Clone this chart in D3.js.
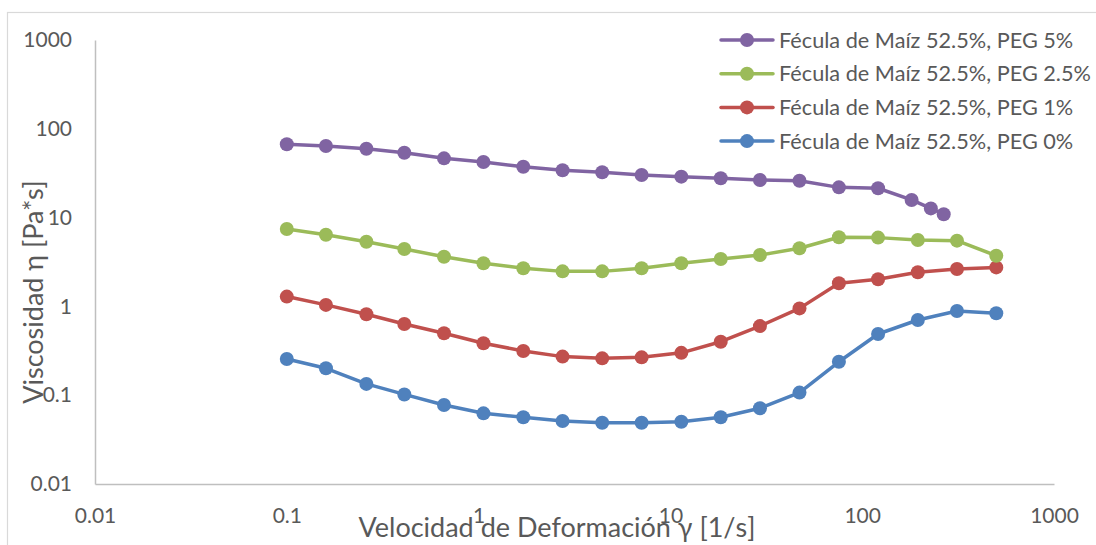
<!DOCTYPE html>
<html>
<head>
<meta charset="utf-8">
<script src="https://cdn.jsdelivr.net/npm/d3@7"></script>
<style>
  html, body { margin: 0; padding: 0; background: #fff; }
  svg { display: block; font-family: "Lato", "Liberation Sans", sans-serif; }
</style>
</head>
<body>
<svg id="chart" width="1096" height="545"></svg>
<script>
// Shear rates of the flow sweep [1/s]
const shearRate = [0.1, 0.16, 0.26, 0.41, 0.66, 1.06, 1.71, 2.74, 4.41, 7.08,
                   11.4, 18.3, 29.3, 47.1, 75.6, 121, 195, 312, 500];
// The 5% PEG sample was measured up to ~270 1/s
const shearRatePeg5 = [0.1, 0.16, 0.26, 0.41, 0.66, 1.06, 1.71, 2.74, 4.41, 7.08,
                       11.4, 18.3, 29.3, 47.1, 75.6, 121, 181, 228, 266];

// Viscosity [Pa*s]
const peg5  = [67, 64, 59.7, 53.8, 46.5, 42.3, 37.4, 34.1, 32.4, 30.2,
               28.9, 27.7, 26.5, 26.0, 21.9, 21.4, 15.8, 12.7, 10.9];
const peg25 = [7.44, 6.42, 5.35, 4.43, 3.63, 3.06, 2.69, 2.48, 2.48, 2.69,
               3.06, 3.42, 3.79, 4.51, 6.0, 5.95, 5.6, 5.5, 3.72];
const peg1  = [1.29, 1.04, 0.815, 0.634, 0.498, 0.384, 0.315, 0.272, 0.260, 0.267,
               0.30, 0.40, 0.60, 0.95, 1.82, 2.02, 2.42, 2.64, 2.75];
const peg0  = [0.256, 0.201, 0.134, 0.102, 0.0776, 0.0625, 0.0564, 0.0512, 0.049, 0.049,
               0.0503, 0.0564, 0.0712, 0.107, 0.238, 0.489, 0.703, 0.887, 0.836];

const seriesNames = ["Fécula de Maíz 52.5%, PEG 5%", "Fécula de Maíz 52.5%, PEG 2.5%",
                     "Fécula de Maíz 52.5%, PEG 1%", "Fécula de Maíz 52.5%, PEG 0%"];
const seriesColors = ["#8064A2", "#9BBB59", "#C0504D", "#4F81BD"];

const xTicks = [0.01, 0.1, 1, 10, 100, 1000];
const yTicks = [0.01, 0.1, 1, 10, 100, 1000];
const xTitle = "Velocidad de Deformación γ [1/s]";
const yTitle = "Viscosidad η [Pa*s]";

const series = [
  { name: seriesNames[0], color: seriesColors[0], x: shearRatePeg5, y: peg5 },
  { name: seriesNames[1], color: seriesColors[1], x: shearRate, y: peg25 },
  { name: seriesNames[2], color: seriesColors[2], x: shearRate, y: peg1 },
  { name: seriesNames[3], color: seriesColors[3], x: shearRate, y: peg0 }
];

const svg = d3.select("#chart");
const plot = { left: 95, right: 1054, top: 40, bottom: 484 };

// Outer chart frame
svg.append("rect")
  .attr("x", 7.5).attr("y", 12.5)
  .attr("width", 1100).attr("height", 560)
  .attr("fill", "none").attr("stroke", "#D9D9D9").attr("stroke-width", 1.2);

const x = d3.scaleLog().domain([0.01, 1000]).range([plot.left, plot.right]);
const y = d3.scaleLog().domain([0.01, 1000]).range([plot.bottom, plot.top]);
const fmt = d => String(d);

// Axes
const xAxis = svg.append("g")
  .attr("transform", `translate(0,${plot.bottom})`)
  .call(d3.axisBottom(x).tickValues(xTicks).tickFormat(fmt).tickSize(0).tickPadding(24));
const yAxis = svg.append("g")
  .attr("transform", `translate(${plot.left},0)`)
  .call(d3.axisLeft(y).tickValues(yTicks).tickFormat(fmt).tickSize(0).tickPadding(23));

[xAxis, yAxis].forEach(g => {
  g.select(".domain").attr("stroke", "#BFBFBF").attr("stroke-width", 1.5);
  g.selectAll("text").attr("fill", "#595959").style("font-size", "21px")
    .style("font-family", "Lato, sans-serif");
});

// Axis titles
svg.append("text")
  .attr("x", 557).attr("y", 537)
  .attr("text-anchor", "middle")
  .attr("fill", "#595959").style("font-size", "27px")
  .text(xTitle);
svg.append("text")
  .attr("transform", "translate(43,292) rotate(-90)")
  .attr("text-anchor", "middle")
  .attr("fill", "#595959").style("font-size", "27px")
  .text(yTitle);

// Lines and markers (drawn so PEG 0% ends up underneath, PEG 5% on top)
const line = d3.line().x(d => x(d[0])).y(d => y(d[1]));
series.slice().reverse().forEach(s => {
  const pts = s.x.map((v, i) => [v, s.y[i]]);
  const g = svg.append("g");
  g.append("path").datum(pts)
    .attr("d", line)
    .attr("fill", "none").attr("stroke", s.color)
    .attr("stroke-width", 3.5).attr("stroke-linejoin", "round").attr("stroke-linecap", "round");
  g.selectAll("circle").data(pts).join("circle")
    .attr("cx", d => x(d[0])).attr("cy", d => y(d[1]))
    .attr("r", 7).attr("fill", s.color);
});

// Legend
const legend = svg.append("g");
series.forEach((s, i) => {
  const cy = 40 + i * 33.7;
  const row = legend.append("g").attr("transform", `translate(0,${cy})`);
  row.append("line").attr("x1", 721).attr("x2", 773).attr("y1", 0).attr("y2", 0)
    .attr("stroke", s.color).attr("stroke-width", 3.5).attr("stroke-linecap", "round");
  row.append("circle").attr("cx", 747).attr("cy", 0).attr("r", 7).attr("fill", s.color);
  row.append("text").attr("x", 779).attr("y", 0).attr("dy", "0.35em")
    .attr("fill", "#595959").style("font-size", "21.7px")
    .text(s.name);
});
</script>
</body>
</html>
